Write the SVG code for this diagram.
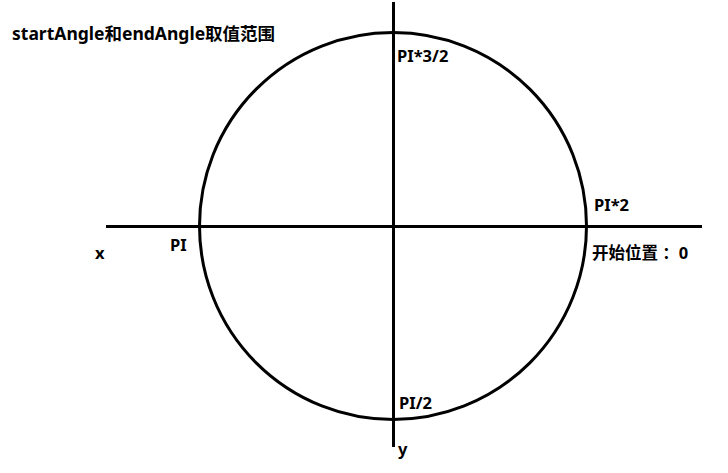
<svg xmlns="http://www.w3.org/2000/svg" width="728" height="473" viewBox="0 0 728 473">
<style>
.t{font-family:"Noto Sans","Noto Sans CJK SC",sans-serif;font-weight:bold;font-size:16.5px;fill:#000}
.l{stroke:#000;stroke-width:3;fill:none}
</style>
<rect width="728" height="473" fill="#fff"/>
<g id="connectors">
<circle class="l" cx="393" cy="226" r="193.5"/>
<line class="l" x1="106" y1="226.5" x2="702" y2="226.5"/>
<line class="l" x1="393.5" y1="2" x2="393.5" y2="447"/>
</g>
<g id="labels">
<text class="t" x="12" y="40" style="font-size:17.5px">startAngle和endAngle取值范围</text>
<text class="t" x="397" y="62">PI*3/2</text>
<text class="t" x="594" y="211">PI*2</text>
<text class="t" x="592" y="259">开始位置 ：0</text>
<text class="t" x="95" y="259">x</text>
<text class="t" x="170" y="251">PI</text>
<text class="t" x="399" y="409">PI/2</text>
<text class="t" x="398" y="455">y</text>
</g>
</svg>
